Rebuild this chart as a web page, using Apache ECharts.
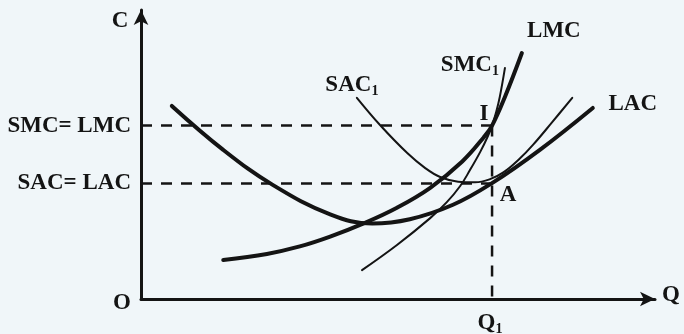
<!DOCTYPE html>
<html>
<head>
<meta charset="utf-8">
<script src="https://cdn.jsdelivr.net/npm/echarts@6/dist/echarts.min.js"></script>
<style>
  html, body { margin: 0; padding: 0; background: #f0f6f9; }
  #chart { width: 684px; height: 334px; }
</style>
</head>
<body>
<div id="chart"></div>
<script>
// Long-run vs short-run cost curves. Q (quantity) and C (cost) in arbitrary units.

// Long-run average cost (U-shaped)
const lacPoints = [
  [6.0, 66.8], [16.0, 51.6], [25.7, 39.4], [36.8, 29.3], [45.0, 26.1],
  [52.3, 27.6], [60.7, 32.6], [68.3, 40.1], [77.6, 51.6], [87.9, 66.1]
];
// Long-run marginal cost
const lmcPoints = [
  [16.0, 13.5], [24.5, 15.6], [30.9, 18.2], [36.8, 21.6], [43.2, 26.1], [49.8, 31.6],
  [56.2, 38.4], [62.5, 47.6], [66.7, 56.0], [68.3, 60.0], [70.8, 69.9], [74.1, 85.1]
];
// Short-run average cost of plant 1
const sac1Points = [
  [42.0, 69.6], [46.5, 60.2], [51.8, 50.5], [55.3, 45.3], [58.2, 42.2], [61.7, 40.6],
  [65.0, 40.4], [67.8, 41.4], [70.5, 43.8], [73.7, 48.6], [76.3, 53.4], [80.0, 61.2],
  [83.9, 69.6]
];
// Short-run marginal cost of plant 1
const smc1Points = [
  [43.0, 10.0], [49.8, 18.7], [56.2, 27.9], [59.5, 33.5], [62.1, 39.1], [64.0, 44.6],
  [66.0, 50.9], [67.5, 56.4], [68.3, 60.0], [69.1, 64.7], [69.8, 69.9], [70.8, 79.9]
];

// Reference levels
const q1 = 68.3;          // output Q1
const mcLevel = 60;       // SMC = LMC at point I
const acLevel = 40;       // SAC = LAC at point A

// Cost axis tick labels
const costTickLabels = { 40: 'SAC= LAC', 60: 'SMC= LMC' };

const ink = '#141414';
const serif = '"Liberation Serif", "Times New Roman", serif';
const fontSize = 23;

const chart = echarts.init(document.getElementById('chart'), null, { renderer: 'canvas' });

function curve(name, pts, width) {
  return {
    name, type: 'line', data: pts, smooth: 0.4,
    showSymbol: false, silent: true, z: 3,
    lineStyle: { color: ink, width, cap: 'round' }
  };
}
function dashed(pts) {
  return {
    type: 'line', data: pts, showSymbol: false, silent: true, z: 2,
    lineStyle: { color: ink, width: 2.5, type: [11, 9] }
  };
}

chart.setOption({
  backgroundColor: '#f0f6f9',
  animation: false,
  grid: { left: 141, top: 10, right: 29, bottom: 35 },
  xAxis: {
    type: 'value', min: 0, max: 100,
    axisLine: { show: true, lineStyle: { color: ink, width: 3 }, symbol: ['none', 'arrow'], symbolSize: [11, 15] },
    axisTick: { show: false }, axisLabel: { show: false }, splitLine: { show: false }
  },
  yAxis: {
    type: 'value', min: 0, max: 100, interval: 20,
    axisLine: { show: true, lineStyle: { color: ink, width: 3 }, symbol: ['none', 'arrow'], symbolSize: [11, 15] },
    axisTick: { show: false }, splitLine: { show: false },
    axisLabel: {
      show: true, margin: 10, color: ink, fontFamily: serif, fontWeight: 'bold', fontSize,
      formatter: v => costTickLabels[v] || ''
    }
  },
  series: [
    dashed([[0, mcLevel], [q1, mcLevel]]),
    dashed([[0, acLevel], [q1, acLevel]]),
    dashed([[q1, mcLevel], [q1, 0]]),
    curve('LAC', lacPoints, 4),
    curve('LMC', lmcPoints, 4),
    curve('SAC1', sac1Points, 2),
    curve('SMC1', smc1Points, 2)
  ]
});

const px = p => chart.convertToPixel({ gridIndex: 0 }, p);
const origin = px([0, 0]);
const yTop = px([0, 100]);
const xEnd = px([100, 0]);
const pI = px([q1, mcLevel]);
const pA = px([q1, acLevel]);
const lmcEnd = px(lmcPoints[lmcPoints.length - 1]);
const lacEnd = px(lacPoints[lacPoints.length - 1]);
const sacStart = px(sac1Points[0]);
const smcEnd = px(smc1Points[smc1Points.length - 1]);

const rich = {
  m: { fontFamily: serif, fontWeight: 'bold', fontSize, color: ink },
  s: { fontFamily: serif, fontWeight: 'bold', fontSize: 14, color: ink, verticalAlign: 'bottom', padding: [0, 0, -2, 0] }
};
function label(text, x, y) {
  return {
    type: 'text', x, y, z: 10, silent: true,
    style: { text, rich, align: 'center', verticalAlign: 'middle', fill: ink,
             font: 'bold ' + fontSize + 'px ' + serif }
  };
}

chart.setOption({
  graphic: [
    label('{m|C}', origin[0] - 21, yTop[1] + 11),
    label('{m|O}', origin[0] - 19, origin[1] + 4),
    label('{m|Q}', xEnd[0] + 16, origin[1] - 4),
    label('{m|Q}{s|1}', pI[0] - 2, origin[1] + 24),
    label('{m|I}', pI[0] - 8, pI[1] - 12),
    label('{m|A}', pA[0] + 16, pA[1] + 12),
    label('{m|LMC}', lmcEnd[0] + 32, lmcEnd[1] - 22),
    label('{m|LAC}', lacEnd[0] + 40, lacEnd[1] - 4),
    label('{m|SAC}{s|1}', sacStart[0] - 5, sacStart[1] - 13),
    label('{m|SMC}{s|1}', smcEnd[0] - 35, smcEnd[1] - 3)
  ]
});
</script>
</body>
</html>
